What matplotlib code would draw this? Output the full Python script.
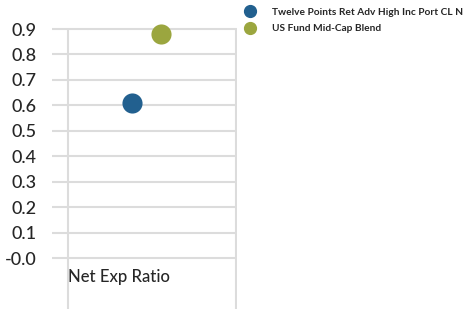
import matplotlib
matplotlib.use('Agg')
import matplotlib.pyplot as plt
from matplotlib.lines import Line2D

# data
category = ['Net Exp Ratio']
series_names = ['Twelve Points Ret Adv High Inc Port CL N', 'US Fund Mid-Cap Blend']
series_values = [0.61, 0.88]
series_colors = ['#22608f', '#9ba63f']
y_ticks = [0.0, 0.1, 0.2, 0.3, 0.4, 0.5, 0.6, 0.7, 0.8, 0.9]
y_labels = ['-0.0', '0.1', '0.2', '0.3', '0.4', '0.5', '0.6', '0.7', '0.8', '0.9']

# horizontal spread of the series inside the category
offsets = [-0.12, 0.055]

plt.rcParams['font.family'] = ['Lato', 'DejaVu Sans']

fig = plt.figure(figsize=(4.7, 3.09), dpi=100)
ax = fig.add_axes([52 / 470, 0, 185 / 470, 1])
ax.set_xlim(-0.595, 0.506)
ax.set_ylim(-0.2004, 1.014)

for y in y_ticks:
    ax.axhline(y, color='#dcdcdc', lw=1.5, zorder=1)
ax.vlines([-0.5, 0.5], -0.21, 0.905, color='#dcdcdc', lw=1.5, zorder=1)

for name, val, col, off in zip(series_names, series_values, series_colors, offsets):
    ax.scatter([off], [val], s=210, color=col, zorder=3, label=name, linewidths=0)

ax.set_yticks(y_ticks)
ax.set_yticklabels(y_labels, fontsize=13, color='#262626', fontweight='medium')
ax.tick_params(axis='y', length=0, pad=11)
ax.set_xticks([])
for s in ax.spines.values():
    s.set_visible(False)

ax.text(-0.5, -0.075, category[0], ha='left', va='center', fontsize=12,
        color='#262626', fontweight='medium')

handles = [Line2D([], [], marker='o', ls='', color=c, markersize=8.5) for c in series_colors]
fig.legend(handles, series_names, loc='upper left', bbox_to_anchor=(234 / 470, 0.995),
           frameon=False, prop={'weight': 'bold', 'size': 7.3},
           handletextpad=1.1, labelspacing=0.75, labelcolor='#262626',
           borderaxespad=0.2)

fig.savefig('out.png', dpi=100)
